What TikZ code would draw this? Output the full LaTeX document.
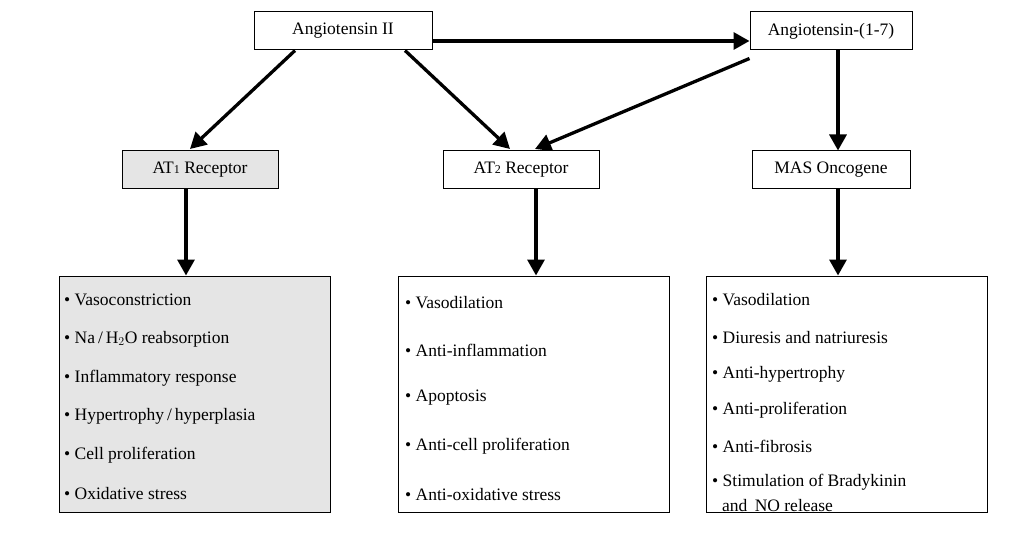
\documentclass[tikz,border=0pt]{standalone}
\usepackage{fontspec}
\setmainfont{Liberation Serif}
\usetikzlibrary{arrows.meta}
\begin{document}
\begin{tikzpicture}[x=1pt,y=-1pt,font=\fontsize{17.5}{20}\selectfont,
 box/.style={draw,line width=1pt,minimum height=38pt,inner sep=0pt},
 big/.style={draw,line width=1pt,inner sep=0pt},
 itm/.style={anchor=west,inner sep=0pt},
 arr/.style={-{Triangle[length=16pt,width=17pt]},line width=3.3pt}]
\useasboundingbox (0,0) rectangle (1025,548);
\node[box,minimum width=178pt] (a2) at (343,31) {Angiotensin II};
\node[box,minimum width=162pt] (a17) at (831,31) {Angiotensin-(1-7)};
\node[box,minimum width=156pt,fill=black!10] (at1) at (200,170) {AT{\fontsize{12}{12}\selectfont 1} Receptor};
\node[box,minimum width=156pt] (at2) at (521,170) {AT{\fontsize{12}{12}\selectfont 2} Receptor};
\node[box,minimum width=158pt] (mas) at (831,170) {MAS Oncogene};
\node[big,fill=black!10,minimum width=271pt,minimum height=236pt] (b1) at (194.5,394) {};
\node[big,minimum width=271pt,minimum height=236pt] (b2) at (533.5,394) {};
\node[big,minimum width=281pt,minimum height=236pt] (b3) at (846.5,394) {};
\draw[arr] (a2.east |- 0,41) -- (a17.west |- 0,41);
\draw[arr] (a2.south -| 295,0) -- (190,149);
\draw[arr] (a2.south -| 405,0) -- (510,149);
\draw[arr] (a17.south west) ++(0,8) -- (535,149);
\draw[arr] (a17.south -| 838,0) -- (mas.north -| 838,0);
\draw[arr] (at1.south -| 186,0) -- (b1.north -| 186,0);
\draw[arr] (at2.south -| 536,0) -- (b2.north -| 536,0);
\draw[arr] (mas.south -| 838,0) -- (b3.north -| 838,0);
\node[itm] (l11) at (64,300) {\textbullet\ Vasoconstriction};
\node[itm] (l12) at (64,339) {\textbullet\ Na\,/\,H$_2$O reabsorption};
\node[itm] (l13) at (64,378) {\textbullet\ Inflammatory response};
\node[itm] (l14) at (64,416) {\textbullet\ Hypertrophy\,/\,hyperplasia};
\node[itm] (l15) at (64,455) {\textbullet\ Cell proliferation};
\node[itm] (l16) at (64,494) {\textbullet\ Oxidative stress};
\node[itm] (l21) at (405,303) {\textbullet\ Vasodilation};
\node[itm] (l22) at (405,350) {\textbullet\ Anti-inflammation};
\node[itm] (l23) at (405,398) {\textbullet\ Apoptosis};
\node[itm] (l24) at (405,446) {\textbullet\ Anti-cell proliferation};
\node[itm] (l25) at (405,495) {\textbullet\ Anti-oxidative stress};
\node[itm] (l31) at (712,300) {\textbullet\ Vasodilation};
\node[itm] (l32) at (712,338) {\textbullet\ Diuresis and natriuresis};
\node[itm] (l33) at (712,374) {\textbullet\ Anti-hypertrophy};
\node[itm] (l34) at (712,410) {\textbullet\ Anti-proliferation};
\node[itm] (l35) at (712,446) {\textbullet\ Anti-fibrosis};
\node[itm] (l36) at (712,482) {\textbullet\ Stimulation of Bradykinin};
\node[itm] (l37) at (722,506) {and\, NO release};
\end{tikzpicture}
\end{document}
